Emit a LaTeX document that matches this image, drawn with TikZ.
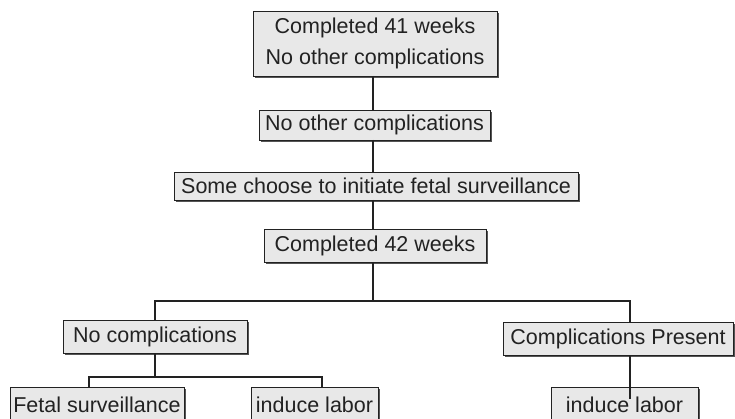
\documentclass[tikz,border=0pt]{standalone}
\usepackage{fontspec}
\setmainfont{Liberation Sans}
\usetikzlibrary{shadows}
\definecolor{boxfill}{HTML}{E8E8E8}
\definecolor{shadowc}{HTML}{555555}
\definecolor{ink}{HTML}{222222}
\begin{document}
\begin{tikzpicture}[x=1pt,y=-1pt,
  stepbox/.style={draw=ink, line width=0.9pt, fill=boxfill, inner sep=0pt, outer sep=0pt,
    text=ink, font=\fontsize{21.5}{31}\selectfont, align=center,
    drop shadow={shadow xshift=2.2pt, shadow yshift=-2.2pt, fill=shadowc, opacity=1}},
  conn/.style={draw=ink, line width=1.1pt}]
\useasboundingbox[fill=white] (0,0) rectangle (735,419);
\node[stepbox, minimum width=244pt, minimum height=65pt] (b1) at (375,43.5) {Completed 41 weeks\\No other complications};
\node[stepbox, minimum width=231pt, minimum height=30pt] (b2) at (374.5,125) {No other complications};
\node[stepbox, minimum width=404pt, minimum height=28pt] (b3) at (376,186) {Some choose to initiate fetal surveillance};
\node[stepbox, minimum width=222pt, minimum height=33pt] (b4) at (375,245.5) {Completed 42 weeks};
\node[stepbox, minimum width=184pt, minimum height=33pt] (b5) at (155,336.5) {No complications};
\node[stepbox, minimum width=230pt, minimum height=33pt] (b6) at (618,338.5) {Complications Present};
\node[stepbox, minimum width=174pt, minimum height=36pt] (b7) at (97,405) {Fetal surveillance};
\node[stepbox, minimum width=127pt, minimum height=36pt] (b8) at (314.5,405) {induce labor};
\node[stepbox, minimum width=147pt, minimum height=36pt] (b9) at (624.5,405) {induce labor};
\coordinate (c1) at (373,0);
\coordinate (jL) at (155,301);
\coordinate (jR) at (630,301);
\coordinate (kL) at (89,377);
\coordinate (kR) at (322,377);
\coordinate (e9) at (630,399);
\draw[conn] (c1 |- b1.south) -- (c1 |- b2.north);
\draw[conn] (c1 |- b2.south) -- (c1 |- b3.north);
\draw[conn] (c1 |- b3.south) -- (c1 |- b4.north);
\draw[conn] (c1 |- b4.south) -- (c1 |- jL);
\draw[conn] (b5.north) |- (jR) -- (jR |- b6.north);
\draw[conn] (b5.south) -- (b5.south |- kL);
\draw[conn] (kL |- b7.north) |- (kR) -- (kR |- b8.north);
\draw[conn] (jR |- b6.south) -- (e9);
\end{tikzpicture}
\end{document}
